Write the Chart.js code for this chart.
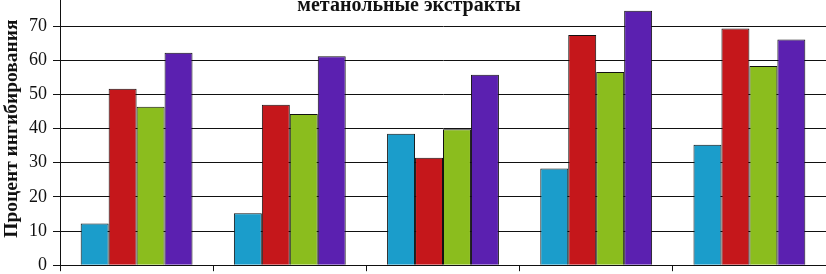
<!DOCTYPE html>
<html>
<head>
<meta charset="utf-8">
<script src="https://cdn.jsdelivr.net/npm/chart.js@4"></script>
<style>
  html, body { margin: 0; padding: 0; background: #fff; overflow: hidden; }
  #wrap { position: absolute; left: 0; top: -40px; width: 826px; height: 322px; }
</style>
</head>
<body>
<div id="wrap"><canvas id="chart"></canvas></div>
<script>
// categories (their labels are cut off below the picture)
const categories = ["1", "2", "3", "4", "5"];
const seriesNames = ["Серия 1", "Серия 2", "Серия 3", "Серия 4"];
const cyanValues = [12.2, 15.2, 38.5, 28.3, 35.3];
const redValues = [51.7, 47.0, 31.5, 67.4, 69.3];
const greenValues = [46.4, 44.3, 39.8, 56.6, 58.3];
const purpleValues = [62.2, 61.2, 55.8, 74.5, 66.1];
const yTicks = [0, 10, 20, 30, 40, 50, 60, 70, 80];
const chartTitle = "метанольные экстракты";
const yTitle = "Процент ингибирования";

const colors = ["#1b9dcb", "#c5171b", "#8bbd1e", "#5b20b0"];
const serif = "'Liberation Serif', 'DejaVu Serif', serif";

const titlePlugin = {
  id: "topTitle",
  afterDraw(chart) {
    const ctx = chart.ctx;
    const y = chart.scales.y;
    ctx.save();
    ctx.font = "bold 20px " + serif;
    ctx.fillStyle = "#111";
    ctx.textAlign = "center";
    ctx.textBaseline = "alphabetic";
    ctx.fillText(chartTitle, chart.width / 2 - 4, y.getPixelForValue(74.4));
    ctx.restore();
  }
};

const ctx = document.getElementById("chart");
const chart = new Chart(ctx, {
  type: "bar",
  data: {
    labels: categories,
    datasets: [cyanValues, redValues, greenValues, purpleValues].map((vals, i) => ({
      label: seriesNames[i],
      data: vals,
      backgroundColor: colors[i],
      borderColor: "#111",
      borderWidth: 1,
      categoryPercentage: 0.73,
      barPercentage: 1
    }))
  },
  options: {
    responsive: true,
    maintainAspectRatio: false,
    animation: false,
    layout: { padding: { top: 32, right: 0, bottom: 3, left: 0 } },
    plugins: {
      legend: { display: false },
      tooltip: { enabled: false }
    },
    scales: {
      x: {
        ticks: { display: false },
        grid: {
          drawOnChartArea: false,
          drawTicks: true,
          tickLength: 6,
          color: "#111",
          offset: true
        },
        border: { color: "#111", width: 1 }
      },
      y: {
        min: 0,
        max: 80,
        afterBuildTicks(scale) {
          scale.ticks = yTicks.map(v => ({ value: v }));
        },
        afterFit(scale) { scale.width = 60; },
        ticks: {
          padding: 6,
          color: "#111",
          font: { family: serif, size: 18 }
        },
        grid: {
          color: "#111",
          lineWidth: 1,
          tickLength: 7
        },
        border: { color: "#111", width: 1 },
        title: {
          display: true,
          text: yTitle,
          color: "#111",
          padding: { top: 0, bottom: 0 },
          font: { family: serif, size: 19.5, weight: "bold" }
        }
      }
    }
  },
  plugins: [titlePlugin]
});
</script>
</body>
</html>
